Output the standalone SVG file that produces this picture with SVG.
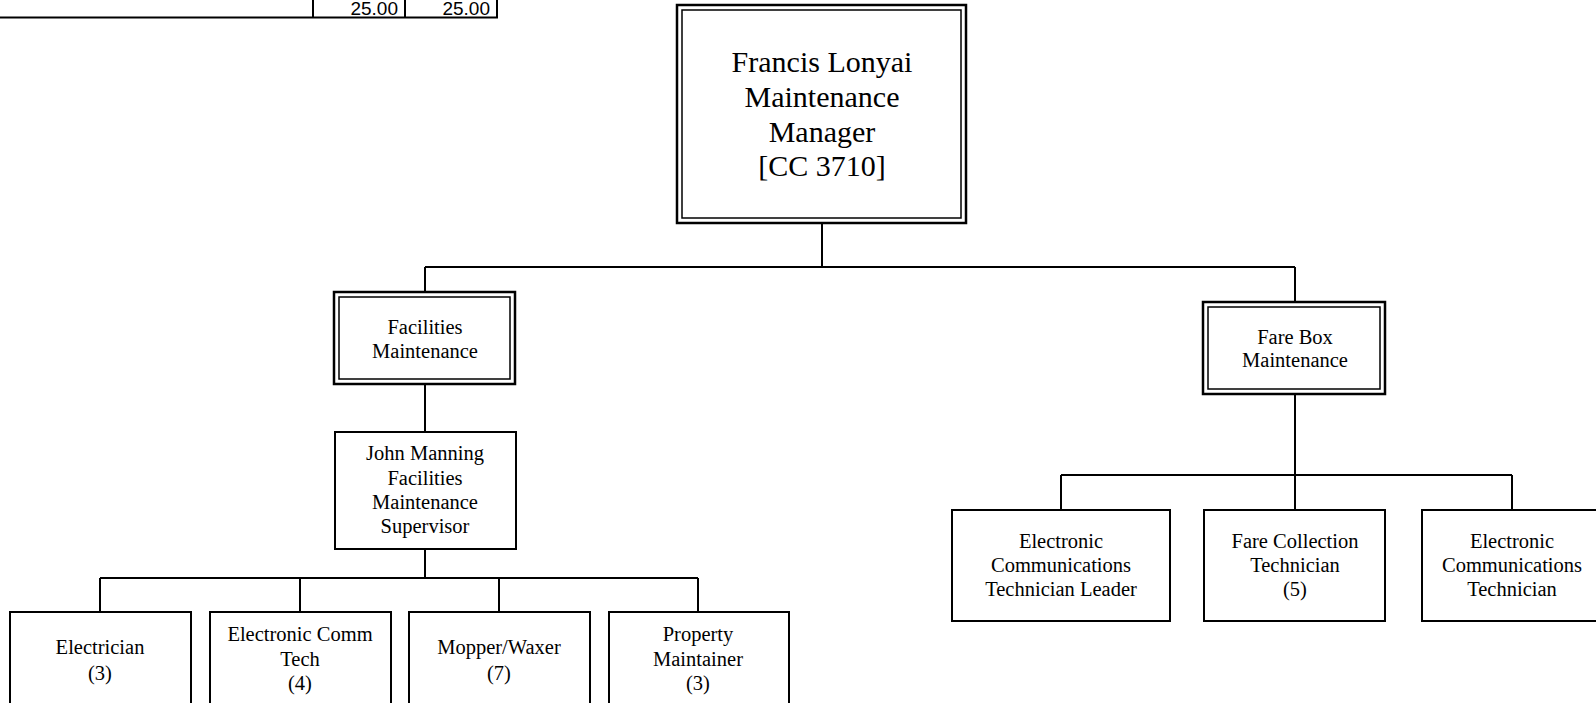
<svg xmlns="http://www.w3.org/2000/svg" width="1596" height="703" viewBox="0 0 1596 703">
<style>
.bg{fill:#fff}
.box{fill:#fff;stroke:#000;stroke-width:2}
.outer{fill:#fff;stroke:#000;stroke-width:2.5}
.inner{fill:none;stroke:#000;stroke-width:1.5}
.conn{fill:none;stroke:#000;stroke-width:2}
.t{font-family:"Liberation Serif","Times New Roman",serif;font-size:20.5px;fill:#000;text-anchor:middle}
.tl{font-family:"Liberation Serif","Times New Roman",serif;font-size:30px;fill:#000;text-anchor:middle}
.num{font-family:"Liberation Sans",Arial,sans-serif;font-size:19px;fill:#000;text-anchor:end}
</style>
<rect class="bg" x="0" y="0" width="1596" height="703"/>
<g id="table-fragment">
<path class="conn" d="M0 17.5H498M313 0V17.5M405 0V17.5M497 0V17.5"/>
<text class="num" x="398" y="14.5">25.00</text>
<text class="num" x="490" y="14.5">25.00</text>
</g>
<g id="connectors">
<path class="conn" d="M822 223V267M425 267H1295M425 267V292M1295 267V302"/>
<path class="conn" d="M425 384V432M425 549V578M100 578H698M100 578V612M300 578V612M499 578V612M698 578V612"/>
<path class="conn" d="M1295 394V475M1061 475H1512M1061 475V510M1295 475V510M1512 475V510"/>
</g>
<g id="manager">
<rect class="outer" x="677" y="5" width="289" height="218"/>
<rect class="inner" x="682" y="10" width="279" height="208"/>
<text class="tl" x="822" y="72">Francis Lonyai</text>
<text class="tl" x="822" y="107">Maintenance</text>
<text class="tl" x="822" y="141.5">Manager</text>
<text class="tl" x="822" y="176">[CC 3710]</text>
</g>
<g id="facilities">
<rect class="outer" x="334" y="292" width="181" height="92"/>
<rect class="inner" x="339" y="297" width="171" height="82"/>
<text class="t" x="425" y="334">Facilities</text>
<text class="t" x="425" y="358">Maintenance</text>
</g>
<g id="farebox">
<rect class="outer" x="1203" y="302" width="182" height="92"/>
<rect class="inner" x="1208" y="307" width="172" height="82"/>
<text class="t" x="1295" y="344">Fare Box</text>
<text class="t" x="1295" y="367">Maintenance</text>
</g>
<g id="supervisor">
<rect class="box" x="335" y="432" width="181" height="117"/>
<text class="t" x="425" y="460">John Manning</text>
<text class="t" x="425" y="484.5">Facilities</text>
<text class="t" x="425" y="509">Maintenance</text>
<text class="t" x="425" y="533">Supervisor</text>
</g>
<g id="electrician">
<rect class="box" x="10" y="612" width="181" height="100"/>
<text class="t" x="100" y="654">Electrician</text>
<text class="t" x="100" y="680">(3)</text>
</g>
<g id="ecomm-tech">
<rect class="box" x="210" y="612" width="181" height="100"/>
<text class="t" x="300" y="641">Electronic Comm</text>
<text class="t" x="300" y="666">Tech</text>
<text class="t" x="300" y="690">(4)</text>
</g>
<g id="mopper">
<rect class="box" x="409" y="612" width="181" height="100"/>
<text class="t" x="499" y="654">Mopper/Waxer</text>
<text class="t" x="499" y="680">(7)</text>
</g>
<g id="property">
<rect class="box" x="609" y="612" width="180" height="100"/>
<text class="t" x="698" y="641">Property</text>
<text class="t" x="698" y="666">Maintainer</text>
<text class="t" x="698" y="690">(3)</text>
</g>
<g id="ect-leader">
<rect class="box" x="952" y="510" width="218" height="111"/>
<text class="t" x="1061" y="547.5">Electronic</text>
<text class="t" x="1061" y="572">Communications</text>
<text class="t" x="1061" y="596">Technician Leader</text>
</g>
<g id="fare-collection">
<rect class="box" x="1204" y="510" width="181" height="111"/>
<text class="t" x="1295" y="547.5">Fare Collection</text>
<text class="t" x="1295" y="572">Technician</text>
<text class="t" x="1295" y="596">(5)</text>
</g>
<g id="ect">
<rect class="box" x="1422" y="510" width="180" height="111"/>
<text class="t" x="1512" y="547.5">Electronic</text>
<text class="t" x="1512" y="572">Communications</text>
<text class="t" x="1512" y="596">Technician</text>
</g>
</svg>
